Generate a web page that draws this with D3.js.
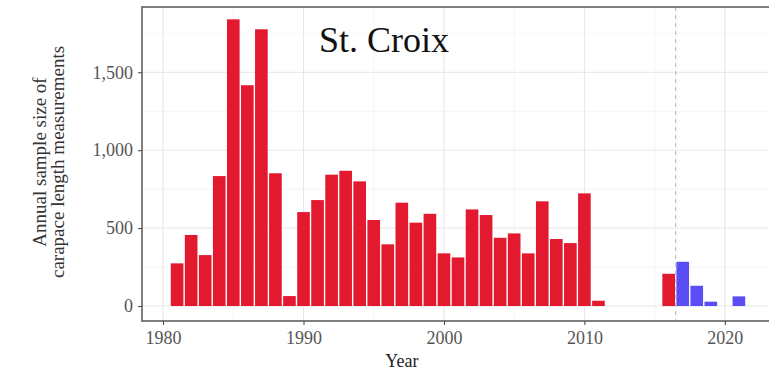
<!DOCTYPE html>
<html>
<head>
<meta charset="utf-8">
<script src="https://cdn.jsdelivr.net/npm/d3@7"></script>
<style>
  body { margin: 0; background: #fff; }
  svg { display: block; }
</style>
</head>
<body>
<div id="chart"></div>
<script>
// annual sample sizes, St. Croix
const years = [1981, 1982, 1983, 1984, 1985, 1986, 1987, 1988, 1989, 1990,
  1991, 1992, 1993, 1994, 1995, 1996, 1997, 1998, 1999, 2000,
  2001, 2002, 2003, 2004, 2005, 2006, 2007, 2008, 2009, 2010,
  2011, 2016, 2017, 2018, 2019, 2021];
const counts = [274, 456, 327, 834, 1840, 1417, 1776, 852, 64, 603,
  680, 843, 868, 800, 552, 396, 663, 535, 592, 338,
  312, 620, 584, 438, 466, 338, 672, 430, 404, 723,
  34, 207, 284, 130, 28, 62];
const xTicks = [1980, 1990, 2000, 2010, 2020];
const yTicks = [0, 500, 1000, 1500];
const cutoffYear = 2016.5;

const W = 769, H = 378;
const pLeft = 142, pRight = 774, pTop = 7, pBottom = 321;
const serif = "'Liberation Serif', 'Times New Roman', Tinos, serif";

const svg = d3.select("#chart").append("svg")
  .attr("width", W)
  .attr("height", H);

const x = d3.scaleLinear().domain([1978.5, 2023.5]).range([pLeft, pRight]);
const y = d3.scaleLinear().domain([-96, 1919]).range([pBottom, pTop]);

const data = years.map((yr, i) => ({ year: yr, n: counts[i] }));

// clip to panel
svg.append("clipPath").attr("id", "panel")
  .append("rect").attr("x", pLeft).attr("y", pTop)
  .attr("width", pRight - pLeft).attr("height", pBottom - pTop);

const grid = svg.append("g").attr("clip-path", "url(#panel)");
const minorX = d3.range(1975, 2030, 10);
const minorY = [250, 750, 1250, 1750];

grid.selectAll(".minx").data(minorX).enter().append("line")
  .attr("x1", d => x(d)).attr("x2", d => x(d))
  .attr("y1", pTop).attr("y2", pBottom)
  .style("stroke", "#f2f2f2").style("stroke-width", 0.8);
grid.selectAll(".miny").data(minorY).enter().append("line")
  .attr("x1", pLeft).attr("x2", pRight)
  .attr("y1", d => y(d)).attr("y2", d => y(d))
  .style("stroke", "#f2f2f2").style("stroke-width", 0.8);
grid.selectAll(".majx").data(xTicks).enter().append("line")
  .attr("x1", d => x(d)).attr("x2", d => x(d))
  .attr("y1", pTop).attr("y2", pBottom)
  .style("stroke", "#e6e6e6").style("stroke-width", 1);
grid.selectAll(".majy").data(yTicks).enter().append("line")
  .attr("x1", pLeft).attr("x2", pRight)
  .attr("y1", d => y(d)).attr("y2", d => y(d))
  .style("stroke", "#e6e6e6").style("stroke-width", 1);

// bars
const barW = x(1980.9) - x(1980);
grid.selectAll(".bar").data(data).enter().append("rect")
  .attr("class", "bar")
  .attr("x", d => x(d.year) - barW / 2)
  .attr("width", barW)
  .attr("y", d => y(d.n))
  .attr("height", d => y(0) - y(d.n))
  .style("fill", d => d.year > cutoffYear ? "#5b4df5" : "#e3192f");

// cutoff line
grid.append("line")
  .attr("x1", x(cutoffYear)).attr("x2", x(cutoffYear))
  .attr("y1", pTop).attr("y2", pBottom)
  .style("stroke", "#b3b3b3")
  .style("stroke-width", 1)
  .style("stroke-dasharray", "4,4");

// panel border
svg.append("rect")
  .attr("x", pLeft).attr("y", pTop)
  .attr("width", pRight - pLeft).attr("height", pBottom - pTop)
  .style("fill", "none")
  .style("stroke", "#555")
  .style("stroke-width", 1.5);

// axes
const xAxis = d3.axisBottom(x).tickValues(xTicks).tickFormat(d3.format("d"))
  .tickSize(4).tickPadding(6);
const yAxis = d3.axisLeft(y).tickValues(yTicks).tickFormat(d3.format(","))
  .tickSize(4).tickPadding(5);

const gx = svg.append("g").attr("transform", `translate(0,${pBottom})`).call(xAxis);
const gy = svg.append("g").attr("transform", `translate(${pLeft},0)`).call(yAxis);

[gx, gy].forEach(g => {
  g.select(".domain").remove();
  g.selectAll(".tick line").style("stroke", "#444");
  g.selectAll("text")
    .attr("font-family", null)
    .attr("font-size", null)
    .style("font-family", serif)
    .style("font-size", "18px")
    .style("fill", "#555");
});

// axis titles
svg.append("text")
  .attr("x", x(2000) - 42)
  .attr("y", 367)
  .style("text-anchor", "middle")
  .style("font-family", serif)
  .style("font-size", "18px")
  .style("fill", "#222")
  .text("Year");

const yTitle = svg.append("text")
  .attr("transform", `translate(0,162) rotate(-90)`)
  .style("text-anchor", "middle")
  .style("font-family", serif)
  .style("font-size", "19px")
  .style("fill", "#333");
yTitle.append("tspan").attr("x", 0).attr("y", 46).text("Annual sample size of");
yTitle.append("tspan").attr("x", 0).attr("y", 64).text("carapace length measurements");

// panel label
svg.append("text")
  .attr("x", 319)
  .attr("y", 52)
  .style("font-family", serif)
  .style("font-size", "36px")
  .style("fill", "#111")
  .text("St. Croix");
</script>
</body>
</html>
